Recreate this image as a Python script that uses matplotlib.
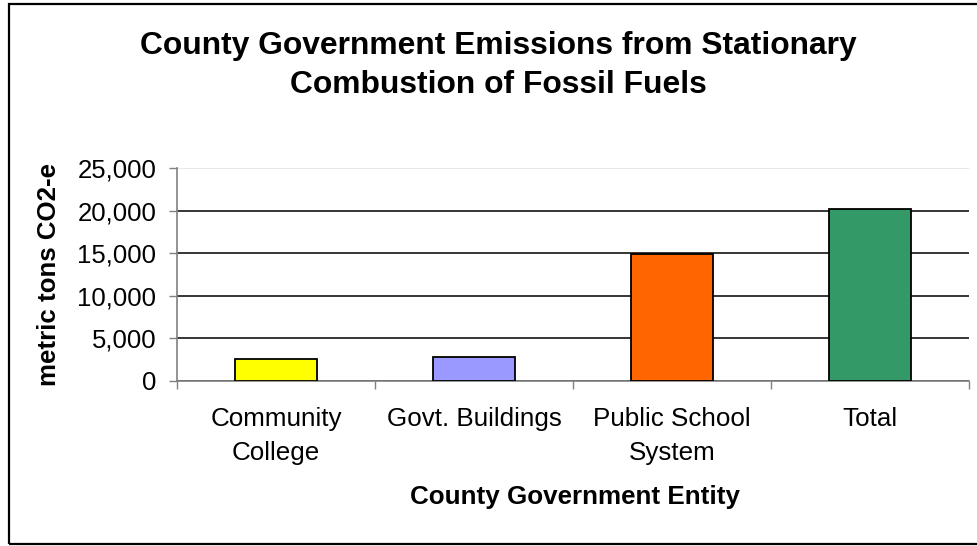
import matplotlib
matplotlib.use("Agg")
from matplotlib import pyplot as plt
from matplotlib.patches import Rectangle

# data
categories = ["Community\nCollege", "Govt. Buildings", "Public School\nSystem", "Total"]
emissions = [2550, 2770, 14870, 20200]
bar_colors = ["#FFFF00", "#9999FF", "#FF6600", "#339966"]
yticks = [0, 5000, 10000, 15000, 20000, 25000]

plt.rcParams['font.family'] = ['Liberation Sans', 'DejaVu Sans']

fig = plt.figure(figsize=(9.77, 5.46), dpi=100)
ax = fig.add_axes([177/977, 1-381/546, (969-177)/977, (381-168)/546])

x = list(range(len(categories)))
ax.bar(x, emissions, width=0.41, color=bar_colors, edgecolor='black', linewidth=1.3, zorder=3)

ax.set_xlim(-0.5, len(categories)-0.5)
ax.set_ylim(0, 25000)
ax.set_yticks(yticks)
ax.set_yticklabels(["{:,}".format(v) for v in yticks], fontsize=18.5)

# boundary tick marks, labels sit in the middle of each category
ax.set_xticks([i-0.5 for i in range(len(categories)+1)])
ax.set_xticklabels([])
ax.set_xticks(x, minor=True)
ax.set_xticklabels(categories, minor=True, fontsize=18.7, linespacing=1.48)
ax.tick_params(axis='x', which='minor', length=0, pad=19)
ax.tick_params(axis='x', which='major', length=6, width=1, color='#808080', direction='out')
ax.tick_params(axis='y', length=6, width=1, color='#808080', pad=9)

ax.yaxis.grid(True, color='black', linewidth=1.1, zorder=0)
ax.get_ygridlines()[-1].set_color('#e0e0e0')
ax.set_axisbelow(True)

for side in ['top', 'right']:
    ax.spines[side].set_visible(False)
for side in ['left', 'bottom']:
    ax.spines[side].set_color('#808080')
    ax.spines[side].set_linewidth(1.2)

fig.text(498/977, 1-65.5/546, "County Government Emissions from Stationary\nCombustion of Fossil Fuels",
         ha='center', va='center', fontsize=22.9, fontweight='bold', linespacing=1.42)
fig.text(575/977, 1-497/546, "County Government Entity", ha='center', va='center',
         fontsize=18.7, fontweight='bold')
fig.text(49/977, 1-275/546, "metric tons CO2-e", ha='center', va='center', rotation=90,
         fontsize=18.6, fontweight='bold')

# outer chart border (right edge falls outside the picture)
fig.patches.append(Rectangle((8.5/977, 1-544/546), 1.0, (544-3.5)/546, transform=fig.transFigure,
                             fill=False, edgecolor='black', linewidth=1.6))

fig.savefig("out.png", dpi=100)
